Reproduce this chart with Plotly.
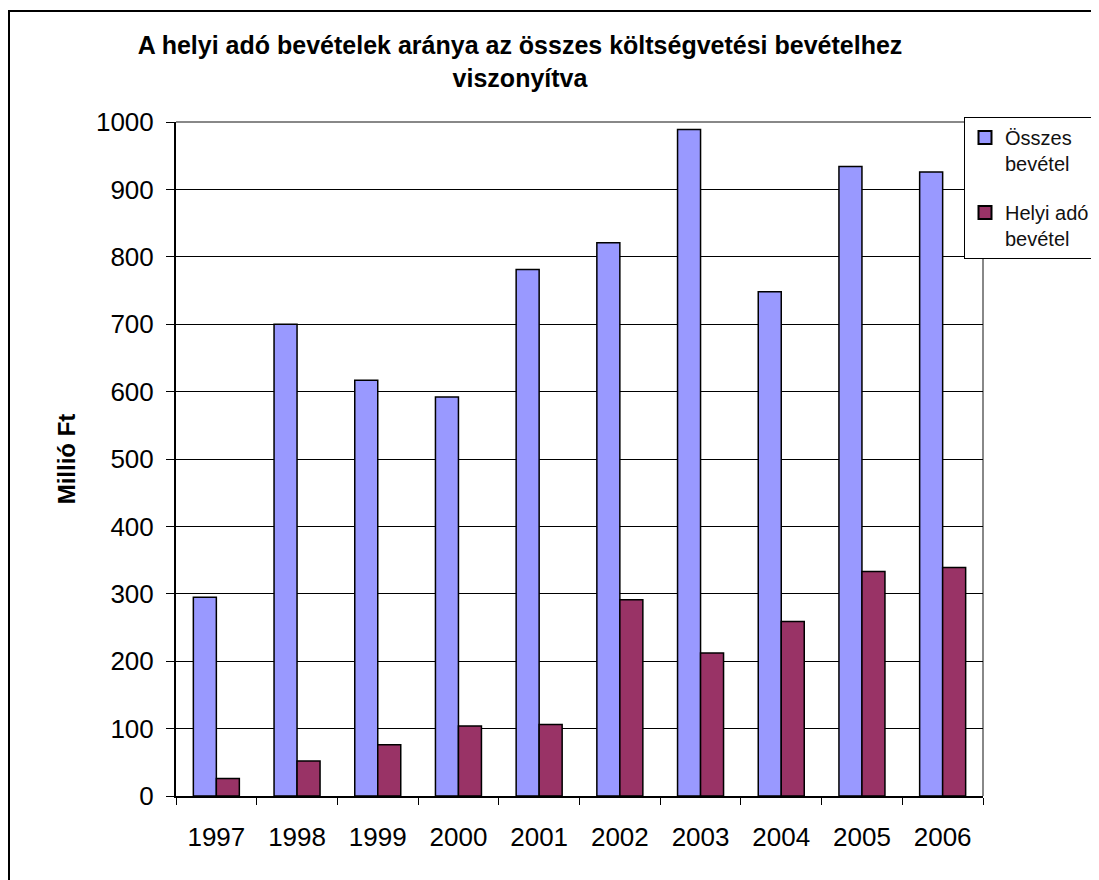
import plotly.graph_objects as go

years = ["1997", "1998", "1999", "2000", "2001", "2002", "2003", "2004", "2005", "2006"]
osszes_bevetel = [295, 700, 617, 592, 781, 821, 989, 748, 934, 926]
helyi_ado_bevetel = [26, 52, 76, 104, 106, 291, 212, 259, 333, 339]
y_ticks = [0, 100, 200, 300, 400, 500, 600, 700, 800, 900, 1000]
series_names = ["Összes<br>bevétel", "Helyi adó<br>bevétel"]
series_colors = ["#9999FF", "#993366"]

FONT = "Arial, Liberation Sans, sans-serif"

# figure coordinates (page is offset by 8px body margin)
L, R, T, B = 168, 124, 114, 92
W, H = 1099, 880
PW, PH = W - L - R, H - T - B

fig = go.Figure()
for vals, name, col in zip([osszes_bevetel, helyi_ado_bevetel], series_names, series_colors):
    fig.add_trace(go.Bar(
        x=years, y=vals, name=name, showlegend=False,
        marker=dict(color=col, line=dict(color="black", width=1.5)),
    ))
# legend entries with square swatches
for i, (name, col) in enumerate(zip(series_names, series_colors)):
    fig.add_trace(go.Scatter(
        x=[None], y=[None], mode="markers", name=name, legendgroup=f"g{i}",
        marker=dict(symbol="square", size=13, color=col, line=dict(color="black", width=2)),
    ))

fig.update_layout(
    width=W, height=H,
    paper_bgcolor="white", plot_bgcolor="white",
    margin=dict(l=L, r=R, t=T, b=B),
    barmode="group", bargap=0.43, bargroupgap=0,
    font=dict(family=FONT, color="black"),
    title=dict(
        text="<b>A helyi adó bevételek aránya az összes költségvetési bevételhez<br>viszonyítva</b>",
        x=512 / W, xanchor="center", y=1 - 46 / H, yanchor="top",
        font=dict(size=25, family=FONT),
    ),
    legend=dict(
        x=(956 - L) / PW, xanchor="left", y=(H - B - 109) / PH, yanchor="top",
        bordercolor="black", borderwidth=1, bgcolor="white",
        font=dict(size=20, family=FONT, color="#111"),
        tracegroupgap=20, itemwidth=30, valign="top",
    ),
    showlegend=True,
)

fig.update_xaxes(
    type="category", tickson="boundaries", ticks="outside", ticklen=7,
    tickcolor="black", showline=True, linecolor="black", linewidth=2,
    tickfont=dict(size=26, family=FONT), showgrid=False, ticklabelstandoff=17,
)
fig.update_yaxes(
    range=[0, 1000], tickvals=y_ticks, ticks="outside", ticklen=8,
    tickcolor="black", showline=True, linecolor="black", linewidth=2,
    showgrid=True, gridcolor="black", gridwidth=1, ticklabelstandoff=7,
    tickfont=dict(size=26, family=FONT), zeroline=False,
    title=dict(text="<b>Millió Ft</b>", font=dict(size=24, family=FONT), standoff=14),
)

# plot area frame (top/right in gray)
fig.add_shape(type="line", xref="paper", yref="paper", x0=0, x1=1, y0=1, y1=1,
              line=dict(color="#888888", width=2), layer="below")
fig.add_shape(type="line", xref="paper", yref="paper", x0=1, x1=1, y0=0, y1=1,
              line=dict(color="#888888", width=2), layer="below")
# outer chart border
fig.add_shape(type="rect", xref="paper", yref="paper",
              x0=(1 - L) / PW, x1=(W + 20 - L) / PW,
              y0=(H - B - (H + 20)) / PH, y1=(H - B - 3) / PH,
              line=dict(color="black", width=2), fillcolor="rgba(0,0,0,0)")

fig.write_html("out.html")
